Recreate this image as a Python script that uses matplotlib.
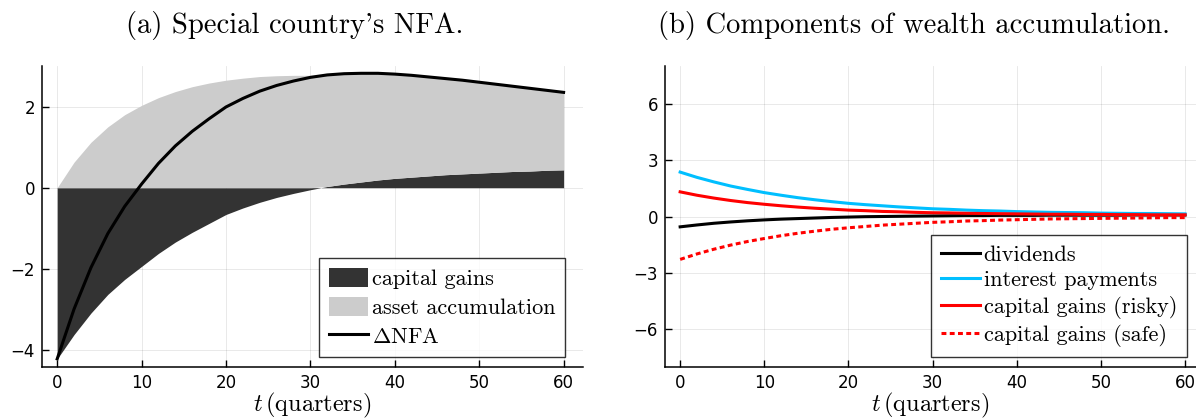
import numpy as np
import matplotlib
matplotlib.use("Agg")
import matplotlib.pyplot as plt
from matplotlib.patches import Patch
from matplotlib.lines import Line2D

plt.rcParams['mathtext.fontset'] = 'cm'
plt.rcParams['font.family'] = ['DejaVu Sans']

# quarters
t = [0, 2, 4, 6, 8, 10, 12, 14, 16, 18, 20, 22, 24, 26, 28, 30,
     32, 34, 36, 38, 40, 42, 44, 46, 48, 50, 52, 54, 56, 58, 60]

# (a) Special country's NFA
capital_gains = [-4.22, -3.62, -3.09, -2.63, -2.26, -1.94, -1.62, -1.34, -1.10, -0.88,
                 -0.66, -0.50, -0.36, -0.24, -0.14, -0.05, 0.03, 0.09, 0.14, 0.19,
                 0.23, 0.26, 0.29, 0.32, 0.34, 0.36, 0.38, 0.40, 0.41, 0.43, 0.44]
asset_accumulation = [0.00, 0.63, 1.12, 1.50, 1.80, 2.03, 2.22, 2.37, 2.49, 2.58,
                      2.65, 2.70, 2.74, 2.76, 2.77, 2.77, 2.75, 2.72, 2.68, 2.63,
                      2.57, 2.51, 2.44, 2.37, 2.31, 2.24, 2.17, 2.10, 2.04, 1.97, 1.91]

# (b) Components of wealth accumulation
dividends = [-0.55, -0.45, -0.36, -0.29, -0.23, -0.18, -0.14, -0.11, -0.08, -0.05,
             -0.03, -0.01, 0.00, 0.01, 0.02, 0.03, 0.04, 0.05, 0.05, 0.06,
             0.06, 0.06, 0.07, 0.07, 0.07, 0.07, 0.07, 0.08, 0.08, 0.08, 0.08]
interest_payments = [2.36, 2.08, 1.84, 1.62, 1.44, 1.27, 1.13, 1.00, 0.89, 0.79,
                     0.70, 0.63, 0.57, 0.51, 0.46, 0.41, 0.38, 0.34, 0.31, 0.29,
                     0.26, 0.24, 0.22, 0.21, 0.20, 0.18, 0.17, 0.16, 0.16, 0.15, 0.14]
cg_risky = [1.31, 1.13, 0.98, 0.85, 0.74, 0.65, 0.57, 0.50, 0.44, 0.39,
            0.34, 0.31, 0.27, 0.25, 0.22, 0.20, 0.19, 0.17, 0.16, 0.15,
            0.14, 0.13, 0.12, 0.12, 0.11, 0.11, 0.10, 0.10, 0.09, 0.09, 0.09]
cg_safe = [-2.28, -1.99, -1.74, -1.52, -1.33, -1.17, -1.02, -0.89, -0.78, -0.68,
           -0.60, -0.53, -0.46, -0.41, -0.36, -0.31, -0.28, -0.24, -0.22, -0.19,
           -0.17, -0.15, -0.13, -0.12, -0.11, -0.10, -0.09, -0.08, -0.07, -0.06, -0.06]

left_yticks = [-4, -2, 0, 2]
right_yticks = [-6, -3, 0, 3, 6]
xticks = [0, 10, 20, 30, 40, 50, 60]

tt = np.array(t, dtype=float)
cg = np.array(capital_gains)
aa = np.array(asset_accumulation)
dnfa = cg + aa
pos = np.maximum(cg, 0)

W, H = 1196, 418
fig = plt.figure(figsize=(W / 100, H / 100), dpi=100)

def px_axes(x0, x1, ytop, ybot):
    return fig.add_axes([x0 / W, 1 - ybot / H, (x1 - x0) / W, (ybot - ytop) / H])

ax1 = px_axes(42, 583, 66, 367)
ax2 = px_axes(665, 1196, 66, 367)

dark = '#333333'
light = '#cccccc'
serif = 'cmr10'

for ax in (ax1, ax2):
    for s in ('top', 'right'):
        ax.spines[s].set_visible(False)
    for s in ('left', 'bottom'):
        ax.spines[s].set_linewidth(1.1)
    ax.tick_params(direction='in', length=5, width=1.0, labelsize=12, pad=5, colors='black')
    ax.grid(True, color='black', alpha=0.1, linewidth=0.6)
    ax.set_axisbelow(True)
    ax.set_xticks(xticks)
    ax.set_xlabel(r'$t\,$(quarters)', fontfamily=serif, fontsize=17.5, labelpad=-1)

# left panel
ax1.fill_between(tt, 0, cg, color=dark, linewidth=0)
ax1.fill_between(tt, pos, pos + aa, color=light, linewidth=0)
ax1.plot(tt, dnfa, color='black', linewidth=2.2)
ax1.set_xlim(-1.8, 62.3)
ax1.set_ylim(-4.42, 3.0)
ax1.set_yticks(left_yticks)
ax1.set_yticklabels([f'{v}'.replace('-', '\u2212') for v in left_yticks])

h1 = [Patch(facecolor=dark, edgecolor='none'),
      Patch(facecolor=light, edgecolor='none'),
      Line2D([], [], color='black', linewidth=2.2)]
l1 = ['capital gains', 'asset accumulation', r'$\Delta$NFA']
leg1 = ax1.legend(h1, l1, loc='lower right', bbox_to_anchor=(0.967, 0.033),
                  borderaxespad=0, frameon=True, fancybox=False, edgecolor='black',
                  prop={'family': serif, 'size': 16}, handlelength=1.75, handleheight=0.95,
                  handletextpad=0.15, labelspacing=0.35, borderpad=0.45)
leg1.get_frame().set_linewidth(1.0)

# right panel
ax2.plot(tt, dividends, color='black', linewidth=2.2, label='dividends')
ax2.plot(tt, interest_payments, color='#00bfff', linewidth=2.2, label='interest payments')
ax2.plot(tt, cg_risky, color='#ff0000', linewidth=2.2, label='capital gains (risky)')
ax2.plot(tt, cg_safe, color='#ff0000', linewidth=2.2, linestyle=(0, (1.6, 1.1)),
         label='capital gains (safe)')
ax2.set_xlim(-1.8, 61.3)
ax2.set_ylim(-8, 8)
ax2.set_yticks(right_yticks)
ax2.set_yticklabels([f'{v}'.replace('-', '\u2212') for v in right_yticks])
leg2 = ax2.legend(loc='lower right', bbox_to_anchor=(0.983, 0.033),
                  borderaxespad=0, frameon=True, fancybox=False, edgecolor='black',
                  prop={'family': serif, 'size': 16}, handlelength=1.75,
                  handletextpad=0.15, labelspacing=0.25, borderpad=0.45)
leg2.get_frame().set_linewidth(1.0)

fig.text(295 / W, 1 - 26 / H, "(a) Special country's NFA.", fontfamily=serif,
         fontsize=20.6, ha='center', va='center')
fig.text(914 / W, 1 - 26 / H, '(b) Components of wealth accumulation.', fontfamily=serif,
         fontsize=20.6, ha='center', va='center')

fig.savefig('out.png', dpi=100)
